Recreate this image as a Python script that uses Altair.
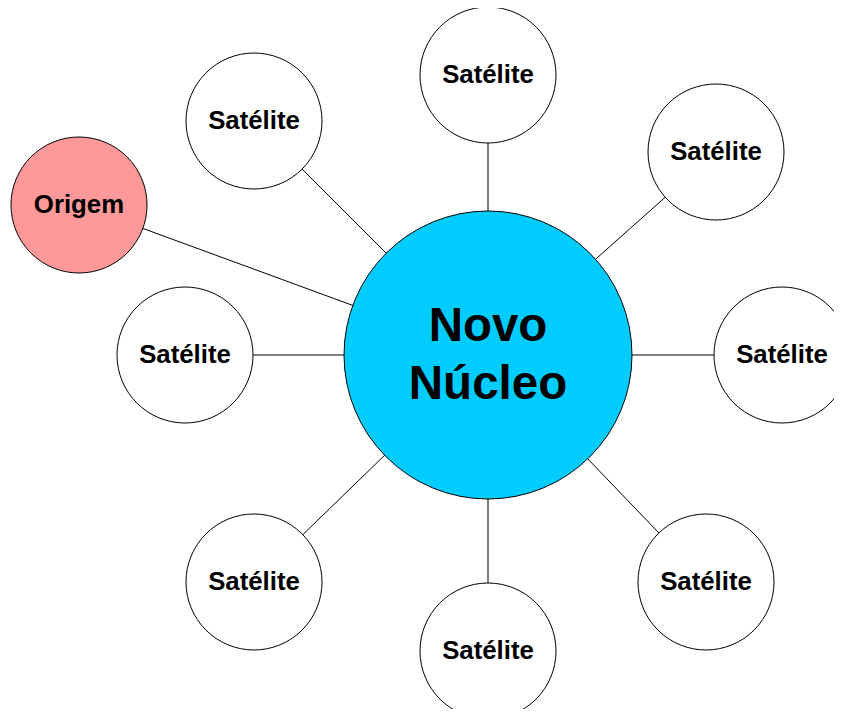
import altair as alt
import pandas as pd

# Node layout (diagram units, centre node at origin, y up)
node_labels = ["Novo\nNúcleo", "Satélite", "Satélite", "Satélite", "Satélite",
               "Satélite", "Satélite", "Satélite", "Satélite", "Origem"]
node_x = [0, 0, 228, 294, 218, 0, -234, -303, -234, -409]
node_y = [0, 280, 203, 0, -227, -296, -227, 0, 234, 150]
node_kind = ["core", "sat", "sat", "sat", "sat", "sat", "sat", "sat", "sat", "origin"]

kind_fill = {"core": "#00CCFF", "sat": "#FFFFFF", "origin": "#FF9999"}
kind_radius = {"core": 144, "sat": 68, "origin": 68}

nodes = pd.DataFrame({"label": node_labels, "x": node_x, "y": node_y, "kind": node_kind})
nodes["fill"] = nodes["kind"].map(kind_fill)
# Vega symbol size = area of bounding square
nodes["area"] = nodes["kind"].map(lambda k: (2 * kind_radius[k]) ** 2)

edges = pd.DataFrame({
    "x": [0] * 9, "y": [0] * 9,
    "x2": node_x[1:], "y2": node_y[1:],
})

W, H = 826, 701
xs = alt.Scale(domain=[-480, 346], nice=False, zero=False)
ys = alt.Scale(domain=[-354, 347], nice=False, zero=False)
X = alt.X("x:Q", scale=xs, axis=None)
Y = alt.Y("y:Q", scale=ys, axis=None)

rules = alt.Chart(edges).mark_rule(color="#000000", strokeWidth=1).encode(
    x=X, y=Y, x2="x2:Q", y2="y2:Q")

circles = alt.Chart(nodes).mark_circle(opacity=1, stroke="#000000", strokeWidth=1).encode(
    x=X, y=Y,
    size=alt.Size("area:Q", scale=None, legend=None),
    fill=alt.Fill("fill:N", scale=None, legend=None),
)

sat_text = alt.Chart(nodes[nodes["kind"] != "core"]).mark_text(
    font="Liberation Sans", fontWeight="bold", fontSize=25.8, color="#000000",
    baseline="middle", align="center").encode(x=X, y=Y, text="label:N")

core_text = alt.Chart(nodes[nodes["kind"] == "core"]).mark_text(
    font="Liberation Sans", fontWeight="bold", fontSize=47.5, color="#000000",
    baseline="middle", align="center", lineBreak="\n", lineHeight=58, dy=-28).encode(
    x=X, y=Y, text="label:N")

chart = alt.layer(rules, circles, sat_text, core_text).properties(
    width=W, height=H, padding=0, autosize=alt.AutoSizeParams(type="none"),
    background="#FFFFFF",
).configure_view(stroke=None)

chart.save("out.html", embed_options={"renderer": "svg", "actions": False})
